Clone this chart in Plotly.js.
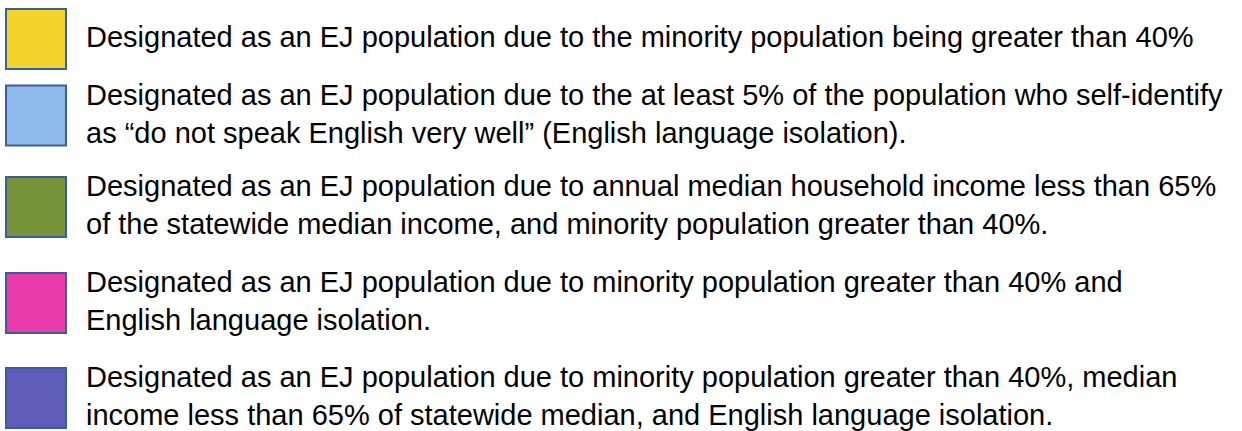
<!DOCTYPE html>
<html>
<head>
<meta charset="utf-8">
<script src="https://cdn.plot.ly/plotly-3.0.1.min.js"></script>
<style>html,body{margin:0;padding:0;background:#fff;}#chart{width:1242px;height:431px;}</style>
</head>
<body>
<div id="chart"></div>
<script>
// Legend categories (text) and their swatch colours
const labels = [
  "Designated as an EJ population due to the minority population being greater than 40%",
  "Designated as an EJ population due to the at least 5% of the population who self-identify<br>as “do not speak English very well” (English language isolation).",
  "Designated as an EJ population due to annual median household income less than 65%<br>of the statewide median income, and minority population greater than 40%.",
  "Designated as an EJ population due to minority population greater than 40% and<br>English language isolation.",
  "Designated as an EJ population due to minority population greater than 40%, median<br>income less than 65% of statewide median, and English language isolation."
];
const swatchColors = ["#F4D42C", "#8EBAEA", "#76923A", "#EA3BAA", "#5E5CB8"];

// Layout: vertical centre of each legend row (pixel-like axis units)
const rowCenters = [39, 115.5, 207, 303, 398];
const swatchX = 36;
const textX = 84;
const fontFamily = "Liberation Sans, Arial, sans-serif";

const trace = {
  type: "scatter",
  mode: "markers",
  x: labels.map(() => swatchX),
  y: rowCenters,
  marker: {
    symbol: "square",
    size: 60,
    color: swatchColors,
    line: {color: "#3A5E9C", width: 2}
  },
  hoverinfo: "skip",
  showlegend: false,
  cliponaxis: false
};

const annotations = labels.map((t, i) => ({
  x: textX, y: rowCenters[i], xref: "x", yref: "y",
  xanchor: "left", yanchor: "middle", align: "left",
  yshift: 2,
  text: t, showarrow: false,
  font: {family: fontFamily, size: 29, color: "#000"}
}));

const layout = {
  width: 1242, height: 431,
  margin: {l: 0, r: 0, t: 0, b: 0},
  paper_bgcolor: "#fff", plot_bgcolor: "#fff",
  xaxis: {range: [0, 1242], visible: false, fixedrange: true},
  yaxis: {range: [431, 0], visible: false, fixedrange: true},
  annotations: annotations,
  showlegend: false
};

Plotly.newPlot("chart", [trace], layout, {displayModeBar: false, staticPlot: true});
</script>
</body>
</html>
